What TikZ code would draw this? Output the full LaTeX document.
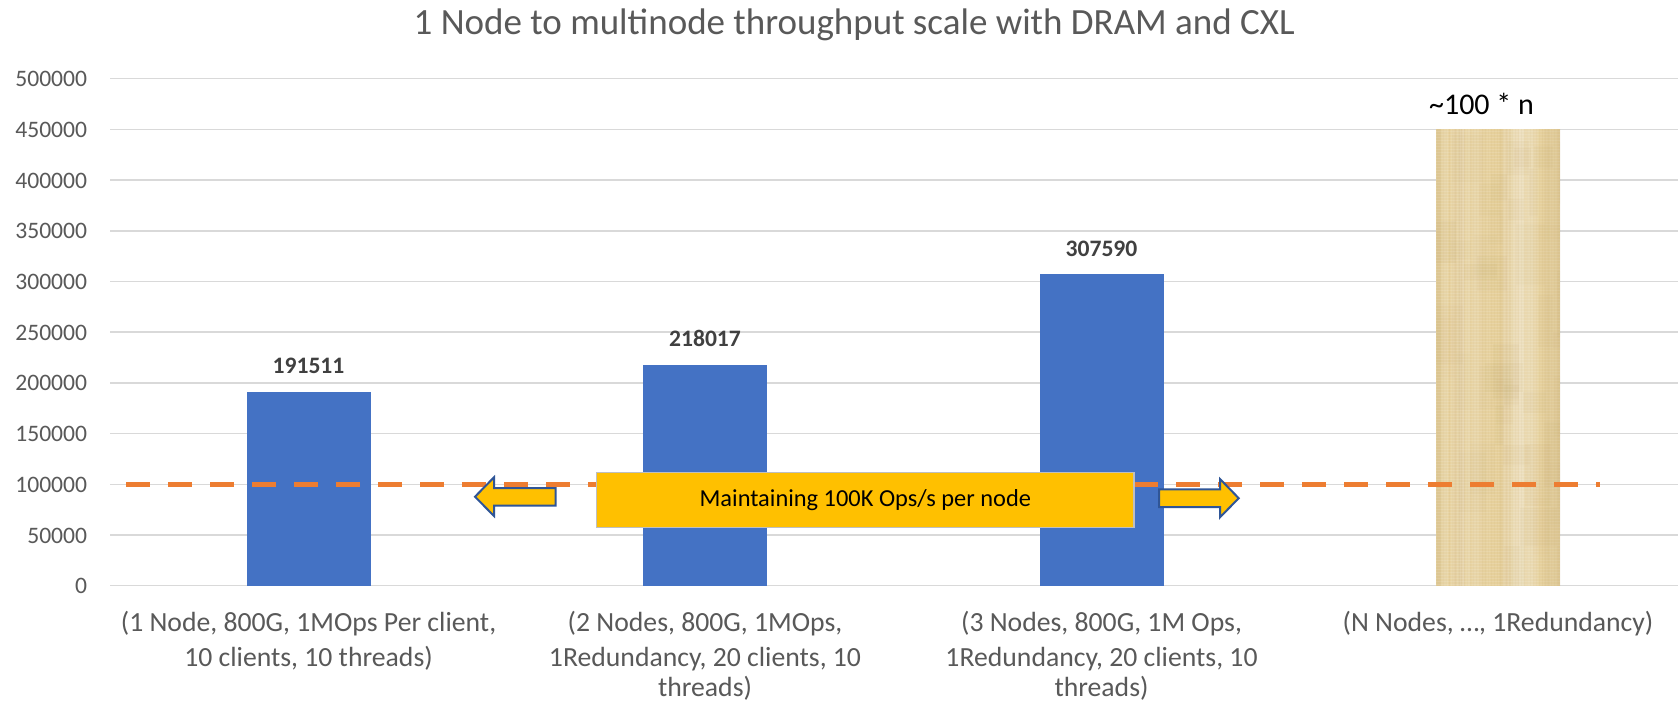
\documentclass[tikz,border=0pt]{standalone}
\usepackage{fontspec}
\setmainfont{Carlito}

\definecolor{axisgray}{HTML}{595959}
\definecolor{valgray}{HTML}{404040}
\definecolor{barblue}{HTML}{4472C4}
\definecolor{gridgray}{HTML}{D9D9D9}
\definecolor{dashorange}{HTML}{ED7D31}
\definecolor{notegold}{HTML}{FFC000}
\definecolor{noteedge}{HTML}{BFBFBF}
\definecolor{arrowedge}{HTML}{2F5597}
\definecolor{papyrus}{HTML}{E6D09B}
\definecolor{papyrusdark}{HTML}{B89A5E}

\tikzset{
  ticklabel/.style={anchor=base east, inner sep=0pt, text=axisgray,
    font=\fontsize{23.6}{28}\selectfont},
  catlabel/.style={anchor=base, inner sep=0pt, text=axisgray,
    font=\fontsize{27.7}{34}\selectfont},
  vallabel/.style={anchor=base, inner sep=0pt, text=valgray,
    font=\bfseries\fontsize{23.6}{28}\selectfont},
  gridline/.style={draw=gridgray, line width=1.5pt},
  barfill/.style={fill=barblue},
  targetline/.style={draw=dashorange, line width=5.3pt,
    dash pattern=on 23.5pt off 18.5pt},
  notebox/.style={rectangle, fill=notegold, draw=noteedge, line width=1.5pt,
    minimum width=537.3pt, minimum height=55pt, inner sep=0pt, text=black,
    font=\fontsize{24.4}{29}\selectfont},
  blockarrow/.style={fill=notegold, draw=arrowedge, line width=2pt, line join=miter},
}

\begin{document}
\begin{tikzpicture}[x=1pt, y=-1pt]
\useasboundingbox (0,0) rectangle (1678,701);
\fill[white] (0,0) rectangle (1678,701);

% horizontal gridlines and value axis labels
\foreach \k/\v in {0/0,1/50000,2/100000,3/150000,4/200000,5/250000,
                   6/300000,7/350000,8/400000,9/450000,10/500000}{
  \pgfmathsetmacro\yy{585.7-50.7*\k}
  \draw[gridline] (110,\yy) -- (1678,\yy);
  \node[ticklabel] (tick\k) at (87.3,\yy+8) {\v};
}

% measured bars
\fill[barfill] (246.5,391.5) rectangle (370.5,585.7);
\fill[barfill] (643,364.6) rectangle (767,585.7);
\fill[barfill] (1039.5,273.8) rectangle (1163.5,585.7);

% projected bar with a papyrus-like texture
\begin{scope}
  \clip (1436,129.4) rectangle (1560,585.7);
  \fill[papyrus] (1436,129.4) rectangle (1560,585.7);
  \pgfmathsetseed{11}
  \foreach \i in {1,...,30}{
    \pgfmathsetmacro\sx{1434+126*rnd}
    \pgfmathsetmacro\sw{3+14*rnd}
    \pgfmathsetmacro\so{0.03+0.08*rnd}
    \fill[white, opacity=\so] (\sx,129.4) rectangle ++(\sw,456.3);
  }
  \foreach \i in {1,...,18}{
    \pgfmathsetmacro\sx{1434+126*rnd}
    \pgfmathsetmacro\sw{1+6*rnd}
    \pgfmathsetmacro\so{0.02+0.06*rnd}
    \fill[papyrusdark, opacity=\so] (\sx,129.4) rectangle ++(\sw,456.3);
  }
  \foreach \i in {1,...,40}{
    \pgfmathsetmacro\px{1430+130*rnd}
    \pgfmathsetmacro\py{120+466*rnd}
    \pgfmathsetmacro\pw{8+30*rnd}
    \pgfmathsetmacro\ph{15+60*rnd}
    \pgfmathsetmacro\po{0.02+0.05*rnd}
    \fill[papyrusdark, opacity=\po] (\px,\py) rectangle ++(\pw,\ph);
  }
  \foreach \yy in {131,134,...,585}
    \draw[white, opacity=0.12, line width=0.8pt] (1436,\yy) -- (1560,\yy);
  \foreach \xx in {1437,1440,...,1560}
    \draw[papyrusdark, opacity=0.06, line width=0.8pt] (\xx,129.4) -- (\xx,585.7);
  \shade[left color=papyrus, right color=papyrusdark, opacity=0.2]
    (1538,129.4) rectangle (1560,585.7);
\end{scope}

% 100K-per-node reference line
\coordinate (target start) at (126,484.3);
\coordinate (target end) at (1600,484.3);
\draw[targetline] (target start) -- (target end);

% data labels
\node[vallabel] (val1) at (308.5,373.8) {191511};
\node[vallabel] (val2) at (705,346.9) {218017};
\node[vallabel] (val3) at (1101.5,256.1) {307590};
\node[anchor=base, inner sep=0pt, text=black, font=\fontsize{30}{36}\selectfont]
  (valn) at (1481.5,114.3) {\textasciitilde100 * n};

% callout with its two block arrows
\node[notebox] (note) at (865.35,499.8) {Maintaining 100K Ops/s per node};
\draw[blockarrow] (475,496.7) -- (494,477.3) -- (494,488) -- (555.7,488)
  -- (555.7,505.7) -- (494,505.7) -- (494,516) -- cycle;
\draw[blockarrow] (1238.7,498.2) -- (1220,479) -- (1220,489.3) -- (1159,489.3)
  -- (1159,507) -- (1220,507) -- (1220,517.3) -- cycle;

% category labels
\node[catlabel] (cat1a) at (308.5,631.7) {(1 Node, 800G, 1MOps Per client,};
\node[catlabel] (cat1b) at (308.5,666) {10 clients, 10 threads)};
\node[catlabel] (cat2a) at (705,631.7) {(2 Nodes, 800G, 1MOps,};
\node[catlabel] (cat2b) at (705,666) {1Redundancy, 20 clients, 10};
\node[catlabel] (cat2c) at (705,696.5) {threads)};
\node[catlabel] (cat3a) at (1101.5,631.7) {(3 Nodes, 800G, 1M Ops,};
\node[catlabel] (cat3b) at (1101.5,666) {1Redundancy, 20 clients, 10};
\node[catlabel] (cat3c) at (1101.5,696.5) {threads)};
\node[catlabel] (cat4a) at (1498,631.7) {(N Nodes, …, 1Redundancy)};

% chart title
\node[anchor=base, inner sep=0pt, text=axisgray, font=\fontsize{37}{44}\selectfont]
  (title) at (854.2,34.3) {1 Node to multinode throughput scale with DRAM and CXL};
\end{tikzpicture}
\end{document}
